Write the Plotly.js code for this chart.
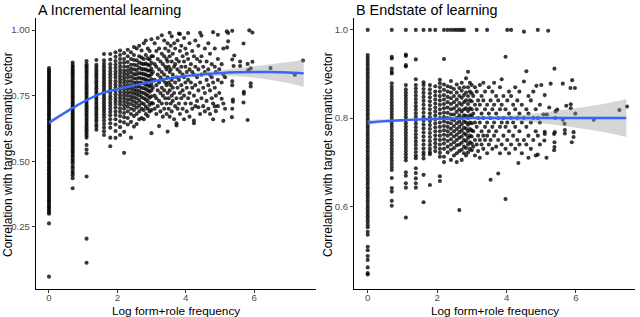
<!DOCTYPE html>
<html><head><meta charset="utf-8">
<script src="https://cdn.plot.ly/plotly-3.0.1.min.js"></script>
<style>html,body{margin:0;padding:0;background:#fff}#chart{width:640px;height:317px}</style>
</head><body><div id="chart"></div>
<script>
// ---------- Panel A: Incremental learning ----------
const A_colX = [0, 0.693, 1.099, 1.386, 1.609, 1.792, 1.946, 2.079, 2.197, 2.303, 2.398, 2.485, 2.565, 2.639, 2.708, 2.773, 2.833, 2.890, 2.944, 2.996];
const A_colV = [
 [0.06,0.263,0.300,0.305,0.312,0.318,0.325,0.331,0.338,0.345,0.351,0.358,0.364,0.371,0.377,0.384,0.390,0.397,0.404,0.410,0.417,0.423,0.430,0.436,0.443,0.450,0.456,0.463,0.469,0.476,0.482,0.489,0.495,0.502,0.509,0.515,0.522,0.528,0.535,0.541,0.548,0.555,0.561,0.568,0.574,0.581,0.587,0.594,0.600,0.607,0.614,0.620,0.627,0.633,0.640,0.646,0.653,0.660,0.666,0.673,0.679,0.686,0.692,0.699,0.705,0.712,0.719,0.725,0.732,0.738,0.745,0.751,0.758,0.764,0.771,0.778,0.784,0.791,0.797,0.804,0.810,0.817,0.823,0.830,0.836,0.842,0.848,0.855],
 [0.397,0.435,0.447,0.455,0.463,0.473,0.481,0.492,0.500,0.508,0.517,0.524,0.531,0.538,0.545,0.552,0.559,0.566,0.573,0.580,0.587,0.594,0.601,0.608,0.615,0.622,0.629,0.636,0.643,0.650,0.657,0.664,0.671,0.678,0.685,0.692,0.699,0.706,0.713,0.720,0.727,0.734,0.741,0.748,0.755,0.762,0.769,0.776,0.783,0.790,0.797,0.804,0.811,0.818,0.825,0.832,0.839,0.846,0.853,0.860,0.867,0.876],
 [0.113,0.205,0.442,0.530,0.545,0.562,0.590,0.598,0.606,0.614,0.622,0.630,0.638,0.646,0.654,0.662,0.670,0.678,0.686,0.694,0.702,0.710,0.718,0.726,0.734,0.742,0.750,0.758,0.766,0.774,0.782,0.790,0.798,0.806,0.814,0.822,0.830,0.838,0.846,0.854,0.862,0.870,0.882],
 [0.620,0.631,0.640,0.652,0.661,0.670,0.679,0.688,0.697,0.706,0.715,0.724,0.733,0.742,0.751,0.760,0.769,0.778,0.787,0.796,0.805,0.814,0.823,0.832,0.841,0.850,0.859,0.868,0.886],
 [0.600,0.614,0.628,0.642,0.655,0.668,0.679,0.690,0.700,0.710,0.720,0.730,0.740,0.750,0.760,0.770,0.780,0.790,0.800,0.810,0.820,0.830,0.840,0.850,0.861,0.872,0.885,0.909],
 [0.557,0.590,0.628,0.645,0.660,0.675,0.688,0.700,0.712,0.724,0.736,0.748,0.760,0.772,0.784,0.796,0.808,0.820,0.832,0.844,0.856,0.870,0.888,0.909],
 [0.589,0.615,0.640,0.660,0.676,0.690,0.705,0.718,0.730,0.742,0.755,0.768,0.780,0.792,0.805,0.818,0.830,0.842,0.855,0.868,0.882,0.898,0.915],
 [0.600,0.630,0.652,0.672,0.688,0.702,0.716,0.728,0.740,0.752,0.764,0.776,0.788,0.800,0.812,0.824,0.836,0.848,0.860,0.874,0.890,0.905,0.922],
 [0.532,0.612,0.648,0.668,0.684,0.700,0.713,0.726,0.738,0.750,0.762,0.774,0.786,0.798,0.810,0.822,0.834,0.846,0.860,0.875,0.890,0.912],
 [0.640,0.665,0.690,0.708,0.722,0.735,0.750,0.763,0.776,0.790,0.804,0.818,0.832,0.846,0.860,0.878,0.900,0.925],
 [0.590,0.650,0.680,0.700,0.718,0.734,0.748,0.762,0.776,0.790,0.806,0.822,0.838,0.852,0.868,0.890,0.915],
 [0.632,0.672,0.695,0.712,0.728,0.744,0.758,0.772,0.786,0.800,0.816,0.832,0.850,0.868,0.886,0.905,0.935],
 [0.642,0.680,0.705,0.722,0.740,0.756,0.770,0.785,0.800,0.815,0.832,0.848,0.866,0.885,0.930],
 [0.660,0.690,0.712,0.732,0.752,0.768,0.784,0.800,0.818,0.836,0.856,0.876,0.900,0.940],
 [0.665,0.700,0.722,0.745,0.762,0.780,0.798,0.815,0.834,0.852,0.872,0.895,0.922],
 [0.660,0.695,0.718,0.740,0.760,0.778,0.796,0.814,0.832,0.850,0.870,0.890,0.950],
 [0.680,0.708,0.735,0.755,0.775,0.792,0.810,0.830,0.850,0.872,0.905,0.960],
 [0.672,0.700,0.728,0.750,0.770,0.790,0.808,0.826,0.846,0.868,0.892,0.930],
 [0.690,0.715,0.742,0.765,0.785,0.805,0.825,0.845,0.865,0.888,0.920],
 [0.607,0.695,0.722,0.748,0.770,0.792,0.812,0.832,0.852,0.875,0.900,0.965]
];
const A_cloudX = [3.04,3.09,3.14,3.18,3.22,3.26,3.30,3.33,3.37,3.40,3.44,3.47,3.50,3.53,3.56,3.59,3.62,3.66,3.69,3.73,3.76,3.80,3.83,3.87,3.91,3.95,3.99,4.03,4.07,4.11,4.15,4.19,4.24,4.28,4.33,4.37,4.42,4.46,4.51,4.56,4.61,4.66,4.71,4.76,4.80,4.85,4.88,4.94,4.98,5.05,5.10,5.15,5.20,5.21,5.24,5.35,5.36,5.38,5.40,5.42,5.59,5.69,5.70,5.81,5.83,5.86,5.90,5.95,6.48,7.19,7.43];
const A_cloudV = [
 [0.72,0.78,0.84,0.90],[0.70,0.75,0.81,0.87,0.95],[0.68,0.74,0.79,0.86,0.92],[0.71,0.77,0.83,0.89,0.97],
 [0.634,0.73,0.80,0.85,0.93],[0.69,0.76,0.82,0.88],[0.72,0.78,0.84,0.91,0.98],[0.67,0.75,0.81,0.87],
 [0.70,0.77,0.83,0.90,0.96],[0.74,0.80,0.86,0.93],[0.68,0.72,0.79,0.85,0.89],[0.613,0.76,0.82,0.88,0.95],
 [0.70,0.74,0.80,0.86,0.92],[0.67,0.77,0.84,0.90,0.99],[0.72,0.79,0.85,0.94],[0.69,0.75,0.81,0.88,0.976],
 [0.73,0.78,0.83,0.91],[0.66,0.76,0.86,0.95],[0.71,0.80,0.87,0.93],[0.636,0.645,0.74,0.82,0.89],
 [0.70,0.78,0.85,0.96],[0.72,0.81,0.88,0.987],[0.68,0.76,0.84,0.92,0.985],[0.74,0.79,0.86,0.94],
 [0.70,0.77,0.83,0.90],[0.66,0.75,0.82,0.88,0.97],[0.72,0.80,0.86,0.93],[0.69,0.78,0.84,0.91],
 [0.74,0.81,0.89,0.989],[0.67,0.76,0.85,0.95],[0.72,0.80,0.87],[0.70,0.78,0.84,0.92],
 [0.645,0.655,0.75,0.83,0.90],[0.71,0.79,0.86,0.96],[0.73,0.82,0.89],[0.706,0.77,0.85,0.94],
 [0.68,0.80,0.88,0.99],[0.74,0.83,0.90,0.979],[0.71,0.78,0.86],[0.69,0.76,0.84,0.93],
 [0.73,0.81,0.88],[0.70,0.79,0.85,0.95],[0.68,0.77,0.83,0.91],[0.74,0.82,0.87],
 [0.66,0.72,0.80,0.992],[0.709,0.78,0.86,0.93],[0.691,0.75,0.84],[0.71,0.81,0.89,0.982],
 [0.76,0.85],[0.738,0.80,0.87],[0.654,0.72,0.83,0.93],[0.70,0.82],[0.995],[0.934],[0.957,0.989],
 [0.668],[0.70,0.79,0.805,0.888,0.997],[0.727,0.735],[0.863],[0.903],[0.863,0.88],[0.724,0.949],
 [0.757,0.765],[0.657,0.871],[0.847],[0.999],[0.785,0.797,0.854],[0.879,0.991],[0.855],[0.830],[0.884]
];
const A_smX  = [0,0.5,1,1.5,2,2.5,3,3.5,4,4.5,5,5.5,6,6.5,7,7.45];
const A_smY  = [0.647,0.688,0.726,0.757,0.775,0.789,0.803,0.816,0.825,0.831,0.836,0.839,0.840,0.840,0.838,0.835];
const A_smLo = [0.639,0.683,0.722,0.753,0.771,0.785,0.799,0.812,0.819,0.823,0.825,0.824,0.818,0.810,0.798,0.783];
const A_smHi = [0.655,0.693,0.730,0.761,0.779,0.793,0.807,0.820,0.831,0.839,0.847,0.854,0.862,0.870,0.878,0.887];

// ---------- Panel B: Endstate of learning ----------
const B_colX = [0, 0.693, 1.099, 1.386, 1.609, 1.792, 1.946, 2.079, 2.197, 2.303, 2.398, 2.485, 2.565, 2.639, 2.708, 2.773, 2.833, 2.890, 2.944, 2.996];
const B_colV = [
 [0.445,0.448,0.461,0.478,0.487,0.500,0.508,0.535,0.542,0.552,0.558,0.565,0.571,0.577,0.583,0.589,0.595,0.601,0.607,0.613,0.619,0.625,0.631,0.637,0.643,0.649,0.655,0.661,0.667,0.673,0.679,0.685,0.691,0.697,0.703,0.709,0.715,0.721,0.727,0.733,0.739,0.745,0.751,0.757,0.763,0.769,0.775,0.781,0.787,0.793,0.799,0.805,0.811,0.817,0.823,0.829,0.835,0.841,0.847,0.853,0.859,0.865,0.871,0.877,0.883,0.889,0.895,0.901,0.907,0.913,0.919,0.925,0.931,0.937,0.943,1.0],
 [0.601,0.612,0.633,0.641,0.664,0.682,0.689,0.696,0.703,0.710,0.717,0.724,0.731,0.738,0.745,0.752,0.759,0.766,0.773,0.780,0.787,0.794,0.801,0.808,0.815,0.822,0.829,0.836,0.843,0.850,0.857,0.864,0.871,0.879,0.901,0.905,0.912,0.935,0.939,1.0],
 [0.574,0.642,0.652,0.669,0.677,0.704,0.711,0.718,0.725,0.732,0.739,0.746,0.753,0.760,0.767,0.774,0.781,0.788,0.795,0.802,0.809,0.816,0.823,0.830,0.837,0.844,0.851,0.858,0.865,0.875,0.917,0.920,0.941,0.944,1.0],
 [0.642,0.652,0.663,0.675,0.686,0.709,0.715,0.723,0.731,0.739,0.747,0.755,0.763,0.771,0.779,0.787,0.795,0.803,0.811,0.819,0.827,0.835,0.843,0.851,0.859,0.867,0.875,0.888,0.933,1.0],
 [0.609,0.671,0.708,0.716,0.722,0.731,0.740,0.749,0.758,0.767,0.776,0.785,0.794,0.803,0.812,0.821,0.830,0.839,0.848,0.857,0.866,0.875,0.881,1.0],
 [0.648,0.718,0.723,0.730,0.739,0.748,0.757,0.766,0.775,0.784,0.793,0.802,0.811,0.820,0.829,0.838,0.847,0.856,0.865,0.875,1.0],
 [0.725,0.734,0.743,0.752,0.761,0.770,0.779,0.788,0.797,0.806,0.815,0.824,0.833,0.842,0.851,0.860,0.872,1.0],
 [0.657,0.668,0.712,0.721,0.730,0.740,0.750,0.760,0.770,0.780,0.790,0.800,0.810,0.820,0.830,0.840,0.850,0.860,0.870,0.879,0.887],
 [0.700,0.712,0.730,0.742,0.752,0.762,0.772,0.782,0.792,0.802,0.812,0.822,0.832,0.842,0.852,0.864,0.876,0.934,1.0],
 [0.722,0.735,0.748,0.760,0.770,0.780,0.790,0.800,0.812,0.824,0.836,0.848,0.860,0.872,1.0],
 [0.705,0.728,0.740,0.752,0.764,0.776,0.788,0.798,0.808,0.820,0.832,0.845,0.858,0.870,0.884,1.0],
 [0.715,0.732,0.745,0.758,0.770,0.782,0.795,0.808,0.822,0.836,0.850,0.866,1.0],
 [0.700,0.720,0.738,0.750,0.762,0.775,0.788,0.800,0.814,0.828,0.842,0.858,0.876,1.0],
 [0.591,0.725,0.740,0.755,0.768,0.780,0.792,0.806,0.820,0.834,0.850,0.868,1.0],
 [0.705,0.728,0.744,0.758,0.772,0.786,0.800,0.815,0.830,0.846,0.862,0.880,1.0],
 [0.720,0.735,0.750,0.765,0.778,0.792,0.806,0.820,0.836,0.852,0.870,1.0],
 [0.715,0.732,0.748,0.762,0.776,0.790,0.805,0.822,0.840,0.858,0.890],
 [0.722,0.740,0.755,0.770,0.785,0.800,0.816,0.832,0.850,0.870,0.905],
 [0.730,0.745,0.760,0.775,0.790,0.806,0.822,0.840,0.860,0.880],
 [0.727,0.742,0.758,0.772,0.788,0.804,0.820,0.838,0.856,0.875]
];
const B_cloudX = [3.04,3.09,3.14,3.18,3.23,3.28,3.33,3.38,3.44,3.49,3.54,3.59,3.64,3.70,3.76,3.81,3.86,3.91,3.97,4.02,4.07,4.13,4.19,4.25,4.31,4.34,4.37,4.44,4.50,4.57,4.63,4.70,4.77,4.84,4.86,4.90,4.96,5.00,5.06,5.09,5.10,5.15,5.16,5.20,5.23,5.27,5.37,5.38,5.39,5.40,5.41,5.46,5.62,5.67,5.68,5.72,5.84,5.85,5.88,5.89,5.93,5.97,5.98,6.51,7.25,7.47];
const B_cloudV = [
 [0.735,0.77,0.81,0.85],[0.715,0.75,0.79,0.83,0.87],[0.74,0.78,0.82,0.86,1.0],[0.725,0.76,0.80,0.84],
 [0.71,0.75,0.79,0.83,0.875],[0.74,0.77,0.81,0.85],[0.73,0.76,0.80,0.84,0.88],[0.75,0.78,0.82,0.86],
 [0.72,0.76,0.79,0.83,1.0],[0.74,0.77,0.81,0.87],[0.660,0.75,0.80,0.84],[0.73,0.78,0.82,0.86],
 [0.76,0.79,0.83,0.88],[0.735,0.77,0.81,0.85],[0.674,0.75,0.80,0.84],[0.72,0.78,0.82,0.87],
 [0.74,0.79,0.83,0.888],[0.76,0.80,0.85],[0.616,0.73,0.78,0.82,0.939],[0.75,0.79,0.84,1.0],
 [0.72,0.77,0.81,0.86],[0.74,0.80,0.85,1.0],[0.76,0.79,0.83],[0.73,0.78,0.82,0.87],
 [0.75,0.80,0.84],[0.698],[0.74,0.77,0.81,0.86],[0.72,0.79,0.83],[0.75,0.80,0.883,0.996],
 [0.74,0.78,0.82,0.906],[0.71,0.76,0.81,0.85],[0.73,0.79,0.84],[0.75,0.80,0.86],[0.715,0.77,0.82],
 [0.873],[0.717,0.76,0.80,1.0],[0.74,0.79,0.83],[0.875],[0.808],[0.749],[0.764,0.769,0.852],
 [0.71],[0.808],[0.998],[0.824],[0.878],[0.727,0.764],[0.734,0.745,0.912],[0.768],[0.800],[0.815],[0.819],
 [0.796,0.878],[0.787],[0.765,0.773],[0.828],[0.868],[0.822,0.831],[0.745],[0.886],[0.757,0.768],[0.868],[0.810],
 [0.796],[0.818],[0.826]
];
const B_smX  = [0,0.5,1,1.5,2,2.5,3,4,5,6,7,7.45];
const B_smY  = [0.790,0.793,0.795,0.797,0.798,0.799,0.800,0.800,0.800,0.800,0.800,0.800];
const B_smLo = [0.784,0.789,0.792,0.794,0.795,0.796,0.797,0.795,0.788,0.778,0.765,0.757];
const B_smHi = [0.796,0.797,0.798,0.800,0.801,0.802,0.803,0.805,0.812,0.822,0.835,0.843];

const xTicks = [0, 2, 4, 6];
const A_yTicks = [0.25, 0.50, 0.75, 1.00];
const B_yTicks = [0.6, 0.8, 1.0];
const panelTitles = ["A Incremental learning", "B Endstate of learning"];
const xTitle = "Log form+role frequency";
const yTitle = "Correlation with target semantic vector";

function flatten(xs, vs) {
  const X = [], Y = [];
  xs.forEach((x, i) => vs[i].forEach(v => { X.push(x); Y.push(v); }));
  return [X, Y];
}
const [Ax1, Ay1] = flatten(A_colX, A_colV);
const [Ax2, Ay2] = flatten(A_cloudX, A_cloudV);
const [Bx1, By1] = flatten(B_colX, B_colV);
const [Bx2, By2] = flatten(B_cloudX, B_cloudV);

const FONT = "Liberation Sans, Arial, Helvetica, sans-serif";
const pt = {size: 4.1, color: "rgba(0,0,0,0.78)", line: {width: 0}};
const ribbon = "rgba(153,153,153,0.4)";
const blue = "#3366FF";

function panelTraces(px, py, lo, hi, sx, sy, xa, ya) {
  return [
    {type: "scatter", mode: "markers", x: px, y: py, marker: pt, xaxis: xa, yaxis: ya, hoverinfo: "skip"},
    {type: "scatter", mode: "lines", x: sx, y: lo, line: {width: 0, shape: "spline"}, xaxis: xa, yaxis: ya, hoverinfo: "skip"},
    {type: "scatter", mode: "lines", x: sx, y: hi, line: {width: 0, shape: "spline"}, fill: "tonexty", fillcolor: ribbon, xaxis: xa, yaxis: ya, hoverinfo: "skip"},
    {type: "scatter", mode: "lines", x: sx, y: sy, line: {width: 2.4, color: blue, shape: "spline"}, xaxis: xa, yaxis: ya, hoverinfo: "skip"}
  ];
}

const data = [
  ...panelTraces(Ax1.concat(Ax2), Ay1.concat(Ay2), A_smLo, A_smHi, A_smX, A_smY, "x", "y"),
  ...panelTraces(Bx1.concat(Bx2), By1.concat(By2), B_smLo, B_smHi, B_smX, B_smY, "x2", "y2")
];

const W = 640, H = 317;
const yDom = [1 - 289 / H, 1 - 18 / H];
const axBase = {
  showline: true, linecolor: "#000", linewidth: 1.1, mirror: false,
  showgrid: false, zeroline: false,
  ticks: "outside", ticklen: 3, tickwidth: 1, tickcolor: "#333",
  tickfont: {family: FONT, size: 9.6, color: "#4D4D4D"}
};
const xBase = {...axBase, ticklen: 2.5, ticklabelstandoff: -3};
const layout = {
  width: W, height: H, margin: {l: 0, r: 0, t: 0, b: 0},
  paper_bgcolor: "#fff", plot_bgcolor: "#fff", showlegend: false,
  font: {family: FONT},
  xaxis: {...xBase, domain: [36 / W, 316 / W], range: [-0.38, 7.81], tickvals: xTicks, anchor: "y"},
  yaxis: {...axBase, domain: yDom, range: [0.013, 1.046], tickvals: A_yTicks, tickformat: ".2f", anchor: "x"},
  xaxis2: {...xBase, domain: [354 / W, 635 / W], range: [-0.395, 7.70], tickvals: xTicks, anchor: "y2"},
  yaxis2: {...axBase, domain: yDom, range: [0.412, 1.027], tickvals: B_yTicks, tickformat: ".1f", anchor: "x2"},
  annotations: [
    {text: panelTitles[0], xref: "paper", yref: "paper", x: 36 / W, y: 1, xanchor: "left", yanchor: "top", showarrow: false, font: {family: FONT, size: 14.4, color: "#000"}},
    {text: panelTitles[1], xref: "paper", yref: "paper", x: 354 / W, y: 1, xanchor: "left", yanchor: "top", showarrow: false, font: {family: FONT, size: 14.4, color: "#000"}},
    {text: xTitle, xref: "paper", yref: "paper", x: 176 / W, y: 0, xanchor: "center", yanchor: "bottom", yshift: -1.5, borderpad: 0, showarrow: false, font: {family: FONT, size: 11.8, color: "#000"}},
    {text: xTitle, xref: "paper", yref: "paper", x: 494.5 / W, y: 0, xanchor: "center", yanchor: "bottom", yshift: -1.5, borderpad: 0, showarrow: false, font: {family: FONT, size: 11.8, color: "#000"}},
    {text: yTitle, xref: "paper", yref: "paper", x: 8 / W, y: 1 - 155 / H, xanchor: "center", yanchor: "middle", textangle: -90, showarrow: false, font: {family: FONT, size: 12, color: "#000"}},
    {text: yTitle, xref: "paper", yref: "paper", x: 328 / W, y: 1 - 155 / H, xanchor: "center", yanchor: "middle", textangle: -90, showarrow: false, font: {family: FONT, size: 12, color: "#000"}}
  ]
};
Plotly.newPlot("chart", data, layout, {staticPlot: true, displayModeBar: false});
</script>
</body></html>
